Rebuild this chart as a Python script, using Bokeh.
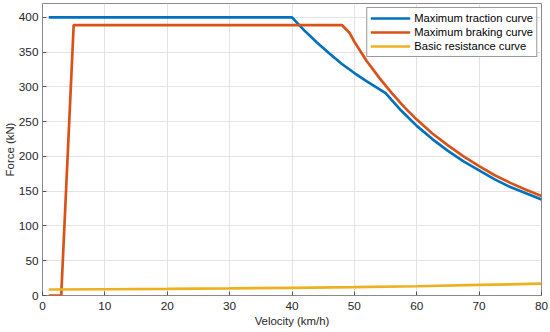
from bokeh.plotting import figure
from bokeh.models import Range1d, FixedTicker, Legend, LegendItem
from bokeh.embed import file_html
from bokeh.resources import INLINE

# Maximum traction curve (km/h, kN)
traction_v = [1, 40, 42, 44, 46, 48, 50, 52, 55, 57.5, 60, 62.5, 65, 67.5, 70, 72.5, 75, 77.5, 80]
traction_f = [400, 400, 381, 364, 348, 333, 320, 308, 291, 266, 244, 225, 208, 193, 180, 167, 156, 147, 138]

# Maximum braking curve
braking_v = [1, 3, 5, 48, 49.2, 50, 51, 52, 54, 56, 58, 60, 62.5, 65, 67.5, 70, 72.5, 75, 77.5, 80]
braking_f = [0, 0, 389, 389, 378, 365, 351, 337, 313, 291, 271, 253, 233, 216, 200, 186, 173, 162, 152, 143]

# Basic resistance curve
resist_v = [1, 10, 20, 30, 40, 50, 60, 70, 80]
resist_f = [8.6, 9.0, 9.5, 10.2, 11.0, 12.0, 13.3, 15.2, 17.0]

x_ticks = [0, 10, 20, 30, 40, 50, 60, 70, 80]
y_ticks = [0, 50, 100, 150, 200, 250, 300, 350, 400]

FONT = "Liberation Sans"
TXT = "#262626"

p = figure(width=550, height=332, output_backend="svg", toolbar_location=None,
           x_range=Range1d(0, 80), y_range=Range1d(0, 420),
           min_border_left=41, min_border_right=9, min_border_top=3, min_border_bottom=37)

p.outline_line_color = "#8a8a8a"
p.outline_line_width = 1
p.background_fill_color = "white"

for ax in (p.xaxis[0], p.yaxis[0]):
    ax.axis_line_color = None
    ax.major_tick_in = 4
    ax.major_tick_out = 0
    ax.major_tick_line_color = "#555555"
    ax.minor_tick_line_color = None
    ax.major_label_text_font = FONT
    ax.major_label_text_font_size = "11.8px"
    ax.major_label_text_color = TXT
    ax.axis_label_text_font = FONT
    ax.axis_label_text_font_size = "11.4px"
    ax.axis_label_text_font_style = "normal"
    ax.axis_label_text_color = TXT

p.xaxis.ticker = FixedTicker(ticks=x_ticks)
p.yaxis.ticker = FixedTicker(ticks=y_ticks)
p.xaxis.axis_label = "Velocity (km/h)"
p.yaxis.axis_label = "Force (kN)"
p.xaxis.major_label_standoff = 6
p.xaxis.axis_label_standoff = 2
p.yaxis.major_label_standoff = 4
p.yaxis.axis_label_standoff = 0

p.grid.grid_line_color = "#e3e3e3"
p.grid.grid_line_width = 1

r1 = p.line(traction_v, traction_f, line_color="#0072BD", line_width=2.7)
r2 = p.line(braking_v, braking_f, line_color="#D95319", line_width=2.7)
r3 = p.line(resist_v, resist_f, line_color="#EDB120", line_width=2.7)

legend = Legend(items=[
    LegendItem(label="Maximum traction curve", renderers=[r1]),
    LegendItem(label="Maximum braking curve", renderers=[r2]),
    LegendItem(label="Basic resistance curve", renderers=[r3]),
], location="top_right")
legend.label_text_font = FONT
legend.label_text_font_size = "11.2px"
legend.label_text_color = "#000000"
legend.glyph_width = 40
legend.glyph_height = 14
legend.label_height = 14
legend.label_standoff = 4
legend.spacing = 0
legend.padding = 3
legend.margin = 4
legend.border_line_color = "#333333"
legend.border_line_width = 1
legend.background_fill_alpha = 1
p.add_layout(legend)

open("out.html", "w").write(file_html(p, INLINE))
